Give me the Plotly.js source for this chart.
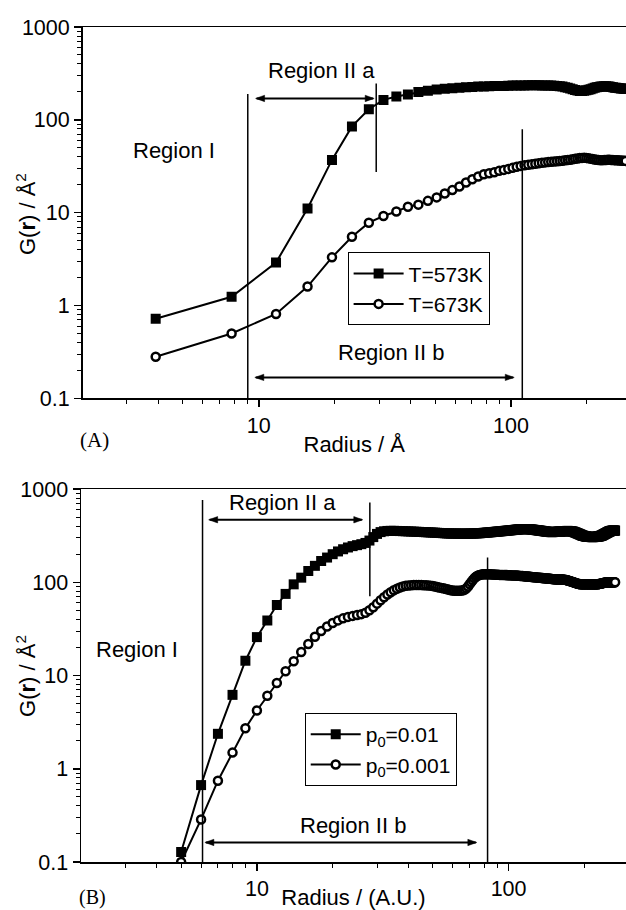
<!DOCTYPE html>
<html>
<head>
<meta charset="utf-8">
<script src="https://cdn.plot.ly/plotly-3.0.1.min.js"></script>
<style>html,body{margin:0;padding:0;background:#fff;overflow:hidden}#plot{width:626px;height:910px}</style>
</head>
<body>
<div id="plot"></div>
<script>
// ---------- Panel A data (radius in Å) ----------
const radiusA = [3.9, 7.8, 11.7, 15.6, 19.5, 23.4, 27.3, 31.2, 35.1, 39, 42.9, 46.8, 50.7, 54.6, 58.5, 62.4, 66.3, 70.2, 74.1, 78, 81.9, 85.8, 89.7, 93.6, 97.5, 101.4, 105.3, 109.2, 113.1, 117, 120.9, 124.8, 128.7, 132.6, 136.5, 140.4, 144.3, 148.2, 152.1, 156, 159.9, 163.8, 167.7, 171.6, 175.5, 179.4, 183.3, 187.2, 191.1, 195, 198.9, 202.8, 206.7, 210.6, 214.5, 218.4, 222.3, 226.2, 230.1, 234, 237.9, 241.8, 245.7, 249.6, 253.5, 257.4, 261.3, 265.2, 269.1, 273, 276.9, 280.8, 284.7];
const g573K = [0.72, 1.24, 2.9, 11.1, 37, 85, 130, 164, 178, 188,
  200, 206, 212, 216, 219, 222, 224, 226, 228, 229,
  230, 231, 232, 232, 233, 234, 234, 235, 235, 236,
  236, 236, 236, 235, 235, 234, 234, 233, 232, 230,
  228, 225, 222, 218, 214, 210, 207, 205, 205, 206,
  208, 211, 214, 218, 221, 224, 226, 228, 229, 230,
  230, 229, 228, 226, 224, 222, 221, 220, 219, 218,
  217, 216, 215];
const g673K = [0.28, 0.50, 0.81, 1.6, 3.3, 5.5, 7.8, 9.2, 10.3, 11.6,
  12.2, 13.4, 14.6, 16.1, 17.5, 19.1, 21.1, 22.9, 24.5, 25.9,
  26.6, 27.3, 28.2, 28.9, 29.6, 30.4, 31.2, 31.9, 32.4, 32.8,
  33.2, 33.6, 34.0, 34.4, 34.8, 35.1, 35.4, 35.6, 35.8, 36.0,
  36.3, 36.6, 36.9, 37.2, 37.6, 38.0, 38.4, 38.7, 38.9, 39.0,
  38.9, 38.6, 38.2, 37.8, 37.4, 37.1, 36.9, 36.8, 36.8, 36.9,
  37.0, 37.1, 37.1, 37.0, 36.9, 36.8, 36.7, 36.6, 36.5, 36.4,
  36.3, 36.2, 36.1];

// ---------- Panel B data (radius in A.U.) ----------
const radiusB = [5, 6, 7, 8, 9, 10, 11, 12, 13, 14, 15, 16, 17, 18, 19, 20, 21, 22, 23, 24,
  25, 26, 27, 28, 29, 30, 31, 32, 33, 34, 35, 36, 37, 38, 39, 40, 41, 42, 43, 44,
  45, 46, 47, 48, 49, 50, 51, 52, 53, 54, 55, 56, 57, 58, 59, 60, 61, 62, 63, 64,
  65, 66, 67, 68, 69, 70, 71, 72, 73, 74, 75, 76, 77, 78, 79, 80, 81, 82, 83, 84,
  85, 86, 87, 88, 89, 90, 91, 92, 93, 94, 95, 96, 97, 98, 99, 100, 101, 102, 103, 104,
  105, 106, 107, 108, 109, 110, 111, 112, 113, 114, 115, 116, 117, 118, 119, 120, 121, 122, 123, 124,
  125, 126, 127, 128, 129, 130, 131, 132, 133, 134, 135, 136, 137, 138, 139, 140, 141, 142, 143, 144,
  145, 146, 147, 148, 149, 150, 151, 152, 153, 154, 155, 156, 157, 158, 159, 160, 161, 162, 163, 164,
  165, 166, 167, 168, 169, 170, 171, 172, 173, 174, 175, 176, 177, 178, 179, 180, 181, 182, 183, 184,
  185, 186, 187, 188, 189, 190, 191, 192, 193, 194, 195, 196, 197, 198, 199, 200, 201, 202, 203, 204,
  205, 206, 207, 208, 209, 210, 211, 212, 213, 214, 215, 216, 217, 218, 219, 220, 221, 222, 223, 224,
  225, 226, 227, 228, 229, 230, 231, 232, 233, 234, 235, 236, 237, 238, 239, 240, 241, 242, 243, 244,
  245, 246, 247, 248, 249, 250, 251, 252, 253, 254, 255, 256, 257, 258, 259, 260, 261, 262, 263, 264, 265];
const gP01 = [0.128, 0.668, 2.37, 6.2, 14.4, 25.8, 38.9, 57, 75, 95,
  112, 132, 150, 169, 184, 200, 214, 226, 236, 244,
  250, 256, 264, 280, 305, 330, 345, 352, 355, 356,
  356, 355, 354, 353, 352, 351, 350, 349, 348, 347,
  346, 345, 344, 343, 342, 341, 340, 339, 338, 337,
  336, 335, 334, 334, 333, 333, 333, 333, 332, 332,
  332, 332, 332, 332, 332, 333, 333, 333, 334, 334,
  335, 335, 336, 337, 338, 339, 340, 341, 342, 343,
  344, 345, 346, 347, 348, 349, 350, 351, 352, 353,
  354, 355, 356, 357, 358, 359, 360, 361, 362, 363,
  364, 365, 366, 367, 368, 369, 370, 370, 371, 371,
  372, 372, 372, 372, 371, 371, 370, 369, 368, 367,
  366, 365, 364, 363, 362, 361, 360, 359, 358, 357,
  356, 355, 354, 353, 352, 351, 350, 349, 348, 347,
  346, 346, 345, 345, 345, 345, 346, 346, 347, 347,
  348, 348, 349, 349, 350, 350, 350, 351, 351, 352,
  352, 353, 353, 354, 354, 355, 355, 355, 355, 354,
  354, 353, 352, 351, 350, 349, 348, 346, 344, 342,
  340, 338, 336, 334, 332, 330, 328, 326, 324, 322,
  320, 318, 316, 315, 314, 313, 312, 311, 310, 309,
  308, 308, 307, 307, 306, 306, 306, 306, 305, 305,
  305, 305, 305, 305, 306, 306, 306, 307, 307, 308,
  308, 309, 310, 310, 311, 312, 313, 314, 315, 316,
  318, 320, 322, 324, 326, 328, 330, 332, 334, 336,
  338, 340, 342, 344, 346, 348, 350, 352, 353, 354,
  355, 356, 356, 357, 357, 358, 358, 358, 358, 358, 358];
const gP001 = [0.1, 0.286, 0.744, 1.49, 2.72, 4.22, 6.06, 8.3, 11.1, 14.2,
  17.9, 21.8, 26.0, 30.0, 33.5, 36.5, 39.0, 41.0, 42.5, 43.6,
  44.5, 45.5, 47, 50, 54, 59, 64, 69, 74, 78,
  82, 85, 88, 90, 91.5, 92.5, 93, 93.5, 93.5, 93.5,
  93.5, 93, 93, 92.5, 92, 91, 90, 89, 88, 87,
  86, 85, 84, 83, 82, 81.5, 81, 81, 81, 81,
  81.5, 82, 83.5, 86, 90, 95, 100, 105, 110, 114,
  117, 119, 120, 121, 121.5, 122, 122, 122, 122, 121.5,
  121.5, 121, 121, 121, 120.5, 120.5, 120.5, 120, 120, 120,
  120, 119.5, 119.5, 119.5, 119, 119, 119, 119, 118.5, 118.5,
  118.5, 118, 118, 118, 117.5, 117.5, 117, 117, 116.5, 116.5,
  116, 116, 115.5, 115.5, 115, 115, 114.5, 114.5, 114, 114,
  113.5, 113.5, 113, 113, 112.5, 112.5, 112, 112, 111.5, 111.5,
  111, 111, 111, 110.5, 110.5, 110, 110, 110, 109.5, 109.5,
  109, 109, 109, 108.5, 108.5, 108, 108, 108, 107.5, 107.5,
  107, 107, 107, 107, 107, 107, 107, 107, 107, 107,
  107, 106.5, 106.5, 106, 106, 105.5, 105, 104.5, 104, 103.5,
  103, 102.5, 102, 101.5, 101, 100.5, 100, 99.5, 99, 98.5,
  98, 97.5, 97, 96.5, 96, 96, 95.5, 95.5, 95, 95,
  95, 95, 95, 95, 95, 95, 95, 95, 95, 95,
  95, 95, 95, 95, 95, 95, 95, 95, 95, 95,
  95, 95, 95, 95, 95, 95, 95, 95, 95, 95,
  95, 95, 95.5, 95.5, 96, 96, 96.5, 96.5, 97, 97,
  97.5, 97.5, 98, 98, 98.5, 98.5, 99, 99, 99.5, 99.5,
  100, 100, 100, 100, 100, 100, 100, 100, 100, 100,
  100, 100, 100, 100, 100, 100, 100, 100, 100, 100, 100];

const namesA = ['T=573K', 'T=673K'];
const namesB = ['p<sub>0</sub>=0.01', 'p<sub>0</sub>=0.001'];
const yTickVals = [0.1, 1, 10, 100, 1000];
const yTickText = ['0.1', '1', '10', '100', '1000'];
const xTickVals = [10, 100];
const xTickText = ['10', '100'];
const xMinor = [3, 4, 5, 6, 7, 8, 9, 20, 30, 40, 50, 60, 70, 80, 90, 200, 300];
const yMinor = [0.2, 0.3, 0.4, 0.5, 0.6, 0.7, 0.8, 0.9, 2, 3, 4, 5, 6, 7, 8, 9, 20, 30, 40, 50, 60, 70, 80, 90, 200, 300, 400, 500, 600, 700, 800, 900];

const FONT = 'Liberation Sans, Arial, Helvetica, sans-serif';
const SERIF = 'Liberation Serif, Times New Roman, serif';

const sq = {symbol: 'square', size: 10, color: 'black', line: {width: 0}};
const ci = {symbol: 'circle', size: 8, color: 'white', line: {color: 'black', width: 2.5}};
const ln = {color: 'black', width: 2};

const traces = [
  {x: radiusA, y: g573K, name: namesA[0], mode: 'lines+markers', marker: sq, line: ln, xaxis: 'x', yaxis: 'y', legend: 'legend'},
  {x: radiusA, y: g673K, name: namesA[1], mode: 'lines+markers', marker: ci, line: ln, xaxis: 'x', yaxis: 'y', legend: 'legend'},
  {x: radiusB, y: gP01, name: namesB[0], mode: 'lines+markers', marker: sq, line: ln, xaxis: 'x2', yaxis: 'y2', legend: 'legend2'},
  {x: radiusB, y: gP001, name: namesB[1], mode: 'lines+markers', marker: ci, line: ln, xaxis: 'x2', yaxis: 'y2', legend: 'legend2'}
];

function xAxis(domain, range, anchor) {
  return {
    type: 'log', domain: domain, range: range, anchor: anchor,
    showline: true, linecolor: 'black', linewidth: 1.5, mirror: true,
    showgrid: false, zeroline: false,
    ticks: 'outside', ticklen: 7, tickwidth: 1.5, tickcolor: 'black',
    tickmode: 'array', tickvals: xTickVals, ticktext: xTickText,
    minor: {tickmode: 'array', tickvals: xMinor, ticks: 'outside', ticklen: 4, tickwidth: 1, tickcolor: 'black', showgrid: false},
    tickfont: {family: FONT, size: 21.5, color: 'black'},
  };
}
function yAxis(domain, anchor) {
  return {
    type: 'log', domain: domain, range: [-1, 3], anchor: anchor,
    showline: true, linecolor: 'black', linewidth: 1.5, mirror: false,
    showgrid: false, zeroline: false,
    ticks: 'outside', ticklen: 7, tickwidth: 1.5, tickcolor: 'black',
    tickmode: 'array', tickvals: yTickVals, ticktext: yTickText,
    minor: {tickmode: 'array', tickvals: yMinor, ticks: 'outside', ticklen: 4, tickwidth: 1, tickcolor: 'black', showgrid: false},
    tickfont: {family: FONT, size: 21.5, color: 'black'}
  };
}

const xa = xAxis([0.0028, 1], [0.30103, 2.4557], 'y');
xa.title = {text: 'Radius / Å', font: {family: FONT, size: 22, color: 'black'}, standoff: 0};
const xb = xAxis([0, 1], [0.30103, 2.4665], 'y2');
xb.title = {text: 'Radius / (A.U.)', font: {family: FONT, size: 22, color: 'black'}, standoff: 0};

function label(text, x, y, size, fam, angle) {
  return {xref: 'paper', yref: 'paper', x: x, y: y, xanchor: 'center', yanchor: 'middle', text: text,
    showarrow: false, textangle: angle || 0, font: {family: fam || FONT, size: size || 22, color: 'black'}};
}
function vline(xr, yr, xv, y0, y1) {
  return {type: 'line', xref: xr, yref: yr, x0: xv, x1: xv, y0: y0, y1: y1, line: {color: 'black', width: 1.5}};
}
// double-headed horizontal arrow: shaft + two pixel-sized heads
function dArrow(xr, yr, x0, x1, yv) {
  const head = (xv, path) => ({type: 'path', xref: xr, yref: yr, xsizemode: 'pixel', ysizemode: 'pixel',
    xanchor: xv, yanchor: yv, path: path, fillcolor: 'black', line: {color: 'black', width: 0.5}});
  return [
    {type: 'line', xref: xr, yref: yr, x0: x0, x1: x1, y0: yv, y1: yv, line: {color: 'black', width: 2}},
    head(x1, 'M1,0 L-8,3.2 L-8,-3.2 Z'),
    head(x0, 'M-1,0 L8,3.2 L8,-3.2 Z')
  ];
}

const legendBase = {xanchor: 'left', yanchor: 'top', bordercolor: 'black', borderwidth: 1, bgcolor: 'white',
  font: {family: FONT, size: 21, color: 'black'}, tracegroupgap: 0, itemwidth: 50};

const layout = {
  width: 626, height: 910,
  margin: {l: 81, r: 0, t: 27, b: 48},
  paper_bgcolor: 'white', plot_bgcolor: 'white',
  font: {family: FONT, color: 'black'},
  xaxis: xa,
  yaxis: yAxis([0.5553, 1], 'x'),
  xaxis2: xb,
  yaxis2: yAxis([0, 0.4467], 'x2'),
  showlegend: true,
  legend: Object.assign({x: 0.4892, y: 0.730}, legendBase),
  legend2: Object.assign({x: 0.4105, y: 0.1784}, legendBase),
  shapes: [
    vline('x', 'y', 9.04, 0.1, 190),
    vline('x', 'y', 29.2, 27.5, 246),
    vline('x', 'y', 110.8, 0.1, 79.3),
    vline('x2', 'y2', 6.08, 0.1, 762),
    vline('x2', 'y2', 28.1, 71, 718),
    vline('x2', 'y2', 82.5, 0.1, 184)
  ].concat(
    dArrow('x', 'y', 9.8, 28.4, 170),
    dArrow('x', 'y', 9.73, 102, 0.168),
    dArrow('x2', 'y2', 6.49, 26.1, 468),
    dArrow('x2', 'y2', 6.27, 74.1, 0.162)
  ),
  annotations: [
    label('Region I', 0.1703, 0.8519),
    label('Region II a', 0.4415, 0.9477),
    label('Region II b', 0.5683, 0.6103),
    label('Region I', 0.1028, 0.2545),
    label('Region II a', 0.3703, 0.4307),
    label('Region II b', 0.4985, 0.0442),
    label('G(<b>r</b>) / Å<sup>2</sup>', -0.1009, 0.776, 22, FONT, -90),
    label('G(<b>r</b>) / Å<sup>2</sup>', -0.1009, 0.2228, 22, FONT, -90),
    label('(A)', 0.0239, 0.505, 21, SERIF),
    label('(B)', 0.022, -0.0431, 20, SERIF)
  ]
};

Plotly.newPlot('plot', traces, layout, {displayModeBar: false, staticPlot: true});
</script>
</body>
</html>
